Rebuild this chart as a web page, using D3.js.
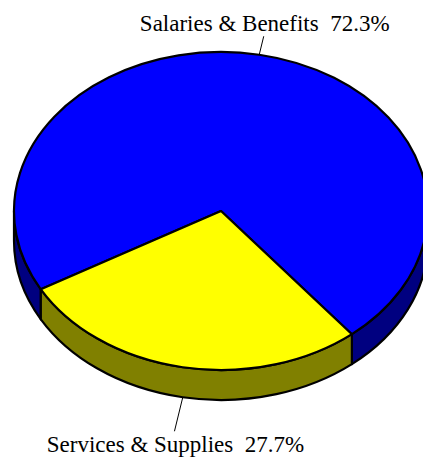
<!DOCTYPE html>
<html>
<head>
<meta charset="utf-8">
<script src="https://cdn.jsdelivr.net/npm/d3@7"></script>
<style>
  html, body { margin: 0; padding: 0; background: #fff; }
  svg { display: block; }
  text { font-family: "Liberation Serif", "Times New Roman", serif; white-space: pre; }
</style>
</head>
<body>
<svg id="chart" width="423" height="459"></svg>
<script>
// Budget split shown as a tilted 3D pie
const categories = ["Salaries & Benefits", "Services & Supplies"];
const values = [72.3, 27.7];
const topColors = ["#0000ff", "#ffff00"];
const sideColors = ["#000080", "#808000"];

const W = 423, H = 459;
const cx = 221, cy = 211;     // centre of the top face
const rx = 207, ry = 159;     // ellipse radii of the top face
const depth = 30;             // thickness of the disc
const rotation = 240.5 * Math.PI / 180;

const svg = d3.select("#chart");

const pie = d3.pie().sort(null)
  .startAngle(rotation)
  .endAngle(rotation + 2 * Math.PI);
const slices = pie(values);

// d3 pie angles are clockwise from 12 o'clock; convert to screen angle from +x
const scr = a => a - Math.PI / 2;
const pt = (t, dy = 0) => [cx + rx * Math.cos(t), cy + ry * Math.sin(t) + dy];

// Side walls: only the front half (screen angle 0..π) is visible
const sides = [];
slices.forEach((d, i) => {
  const s = scr(d.startAngle), e = scr(d.endAngle);
  [0, 2 * Math.PI, 4 * Math.PI].forEach(k => {
    const a = Math.max(s, k), b = Math.min(e, k + Math.PI);
    if (b > a) sides.push({ a, b, i });
  });
});

const sidePath = ({ a, b }) => {
  const p1 = pt(a), p2 = pt(b), p3 = pt(b, depth), p4 = pt(a, depth);
  return `M${p1}A${rx},${ry} 0 0 1 ${p2}L${p3}A${rx},${ry} 0 0 0 ${p4}Z`;
};

svg.append("g").selectAll("path").data(sides).join("path")
  .attr("d", sidePath)
  .attr("fill", d => sideColors[d.i])
  .attr("stroke", "#000")
  .attr("stroke-width", 2.2)
  .attr("stroke-linejoin", "round");

// Top face wedges
const wedge = d => {
  const s = scr(d.startAngle), e = scr(d.endAngle);
  const large = (e - s) > Math.PI ? 1 : 0;
  return `M${cx},${cy}L${pt(s)}A${rx},${ry} 0 ${large} 1 ${pt(e)}Z`;
};

svg.append("g").selectAll("path").data(slices).join("path")
  .attr("d", wedge)
  .attr("fill", (d, i) => topColors[i])
  .attr("stroke", "#000")
  .attr("stroke-width", 2.2)
  .attr("stroke-linejoin", "round");

// Leader lines and labels
const fmt = d3.format(".1f");
const leader = [
  { len: 19, textDy: -5 },   // label above the disc
  { len: 35, textDy: 21 }    // label below the disc
];

slices.forEach((d, i) => {
  const t = scr((d.startAngle + d.endAngle) / 2);
  const front = Math.sin(t) > 0;
  const start = pt(t, front ? depth : 0);
  const ux = rx * Math.cos(t), uy = ry * Math.sin(t);
  const n = Math.hypot(ux, uy);
  const end = [start[0] + ux / n * leader[i].len, start[1] + uy / n * leader[i].len];
  svg.append("line")
    .attr("x1", start[0]).attr("y1", start[1])
    .attr("x2", end[0]).attr("y2", end[1])
    .attr("stroke", "#000").attr("stroke-width", 1);
  svg.append("text")
    .attr("x", end[0] + 1)
    .attr("y", end[1] + leader[i].textDy)
    .attr("text-anchor", "middle")
    .attr("font-size", 23)
    .attr("fill", "#000")
    .text(`${categories[i]}  ${fmt(values[i])}%`);
});
</script>
</body>
</html>
